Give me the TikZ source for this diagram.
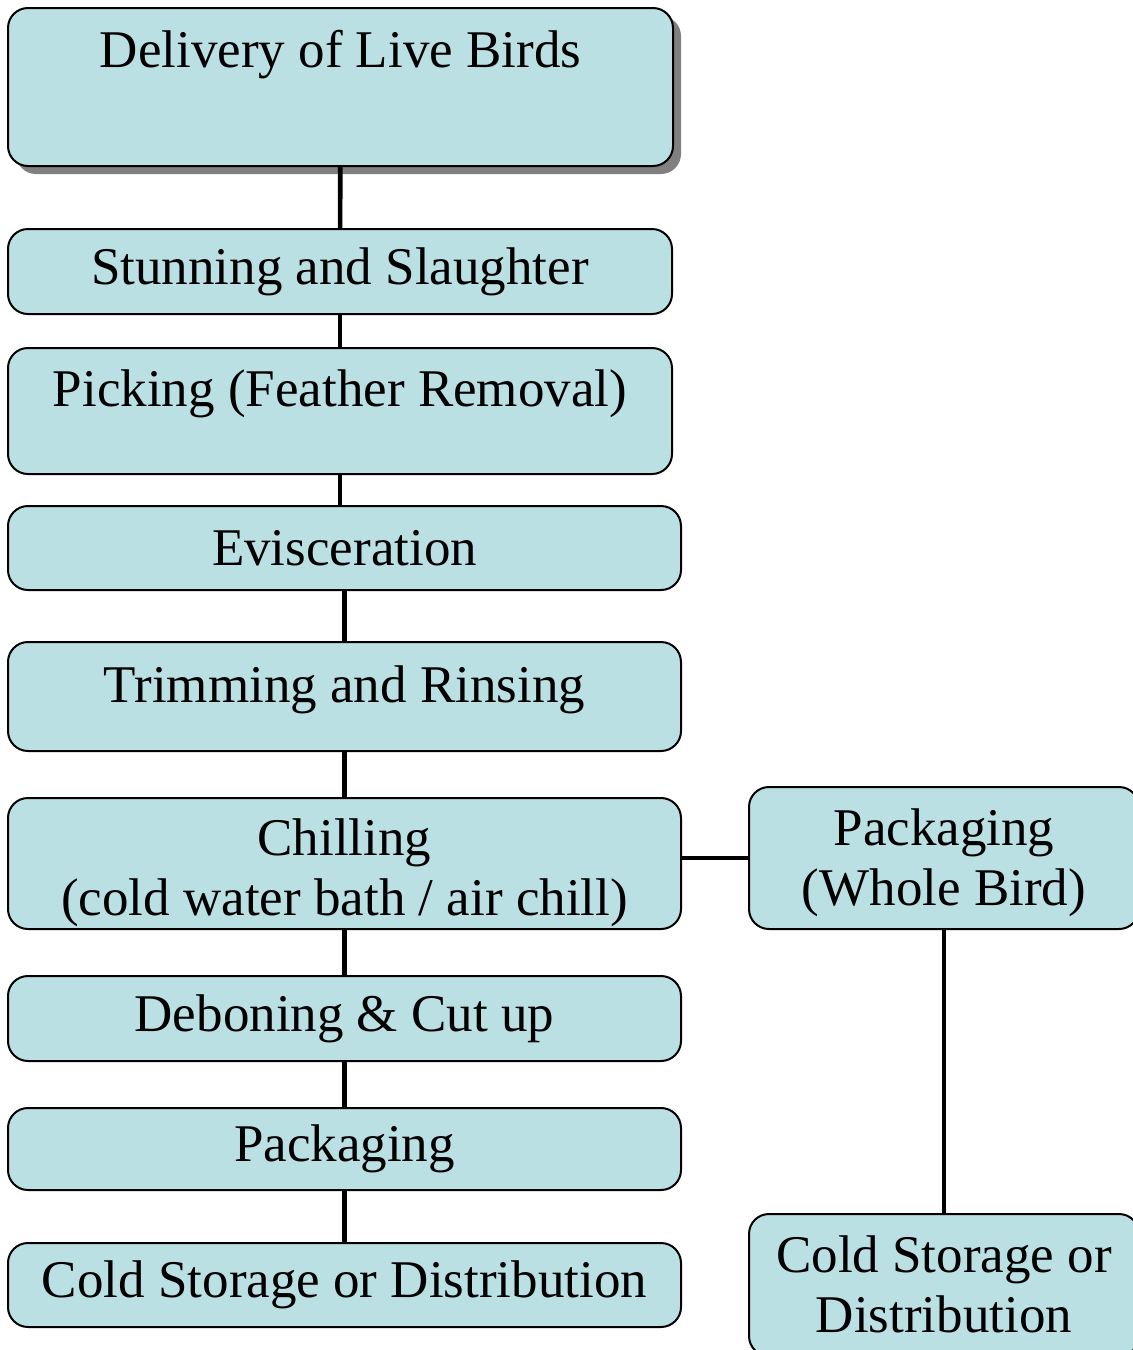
\documentclass[tikz,border=0pt]{standalone}
\usepackage{fontspec}
\setmainfont{Liberation Serif}
\usepackage{tikz}
\usetikzlibrary{shapes, positioning, shadows}
\definecolor{boxblue}{HTML}{BBE0E3}
\newcommand{\stagefont}{\fontsize{26.5}{30}\selectfont}
\tikzstyle{stage} = [draw, rectangle, rounded corners=10pt, fill=boxblue,
    line width=1pt, inner sep=0pt, align=center, font=\stagefont]
\tikzstyle{link} = [line width=2.3pt]

\begin{document}
\begin{tikzpicture}[x=0.5pt, y=-0.5pt]
        \useasboundingbox (0,0) rectangle (1133,1350);
        % main line
        \node[stage, name=deliv, minimum width=332.5pt, text height=29.5pt, text depth=49.5pt,
            drop shadow={shadow xshift=4pt, shadow yshift=-4pt, fill=black!50, opacity=1}]
            at (340.5,87) (deliv) {Delivery of Live Birds};
        \node[stage, name=stun, minimum width=332pt, minimum height=42.5pt] at (340,271.5) (stun) {Stunning and Slaughter};
        \node[stage, name=pick, minimum width=332pt, text height=29pt, text depth=34pt] at (340,411) (pick) {Picking (Feather Removal)};
        \node[stage, name=evis, minimum width=336.5pt, minimum height=42pt] at (344.5,548) (evis) {Evisceration};
        \node[stage, name=trim, minimum width=336.5pt, text height=30pt, text depth=24.5pt] at (344.5,696.5) (trim) {Trimming and Rinsing};
        \node[stage, name=chill, minimum width=336.5pt, text height=58.5pt, text depth=7pt] at (344.5,863.5) (chill) {Chilling \\ (cold water bath / air chill)};
        \node[stage, name=debone, minimum width=336.5pt, minimum height=42.5pt] at (344.5,1018.5) (debone) {Deboning \& Cut up};
        \node[stage, name=pack, minimum width=336.5pt, minimum height=41pt] at (344.5,1149) (pack) {Packaging};
        \node[stage, name=cold, minimum width=336.5pt, minimum height=42pt] at (344.5,1285) (cold) {Cold Storage or Distribution};
        % whole bird branch
        \node[stage, name=whole, minimum width=195pt, text height=59pt, text depth=12pt] at (944,858) (whole) {Packaging \\ (Whole Bird)};
        \node[stage, name=coldw, minimum width=195pt, text height=59pt, text depth=12pt] at (944,1285) (coldw) {Cold Storage or \\ Distribution};

            \draw[link] (deliv) -- (stun);
            \draw[link] (stun) -- (pick);
            \draw[link] (pick.south) -- (pick.south |- evis.north);
            \draw[link] (evis) -- (trim);
            \draw[link] (trim) -- (chill);
            \draw[link] (chill) -- (debone);
            \draw[link] (debone) -- (pack);
            \draw[link] (pack) -- (cold);
            \draw[link] (chill.east |- whole.west) -- (whole.west);
            \draw[link] (whole) -- (coldw);
    \end{tikzpicture}
\end{document}
